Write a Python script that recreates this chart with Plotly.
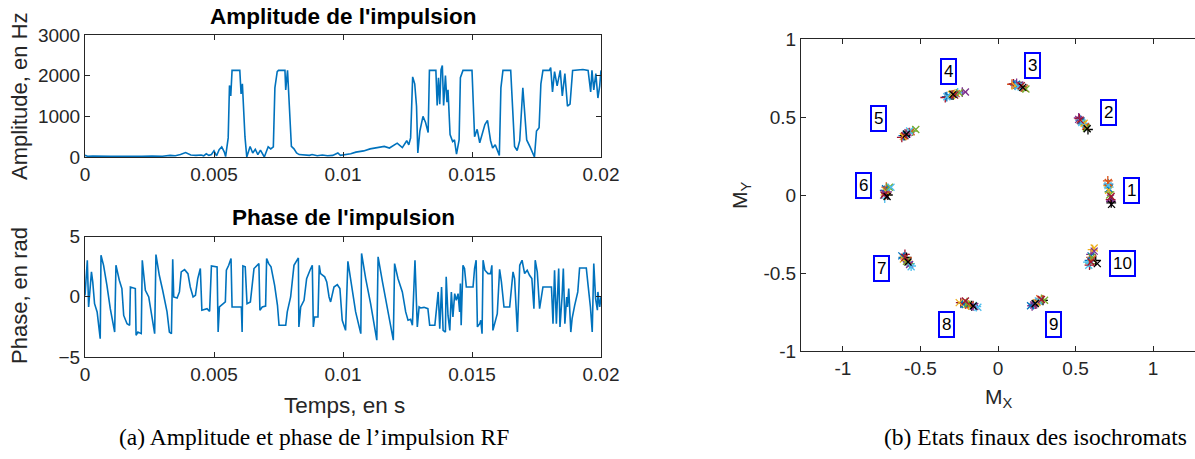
import plotly.graph_objects as go

# ---------------- data ----------------
AMP_T_MS = [0.0, 0.1, 0.3, 0.6, 1.0, 1.4, 1.8, 2.2, 2.6, 3.0, 3.3, 3.5, 3.7, 3.9, 4.1, 4.3, 4.5, 4.6, 4.7, 4.8,
            4.9, 5.0, 5.1, 5.2, 5.3, 5.4, 5.45, 5.55, 5.6, 5.65, 5.7, 6.0, 6.05, 6.1, 6.2, 6.27, 6.4, 6.5, 6.6, 6.7,
            6.8, 6.95, 7.1, 7.2, 7.3, 7.36, 7.45, 7.5, 7.75, 7.78, 7.85, 7.9, 8.0, 8.1, 8.2, 8.3, 8.5, 8.7, 8.8, 9.0,
            9.2, 9.4, 9.6, 9.8, 9.9, 10.0, 10.3, 10.5, 10.8, 11.05, 11.3, 11.6, 11.8, 12.1, 12.3, 12.47, 12.55, 12.62,
            12.7, 12.78, 12.85, 12.9, 12.98, 13.1, 13.2, 13.3, 13.35, 13.6, 13.65, 13.7, 13.75, 13.8, 13.85, 13.9,
            13.97, 14.03, 14.07, 14.15, 14.25, 14.32, 14.4, 14.5, 14.55, 14.65, 15.0, 15.1, 15.2, 15.3, 15.5, 15.6,
            15.72, 15.8, 15.9, 16.06, 16.12, 16.2, 16.5, 16.57, 16.65, 16.75, 16.85, 16.97, 17.05, 17.12, 17.25, 17.42,
            17.5, 17.6, 17.67, 17.75, 18.0, 18.05, 18.12, 18.2, 18.3, 18.42, 18.5, 18.6, 18.7, 18.8, 18.9, 19.3, 19.5,
            19.6, 19.65, 19.72, 19.8, 19.88, 19.95, 20.0]
AMP_HZ = [40, 20, 25, 15, 20, 15, 25, 20, 25, 20, 40, 30, 60, 110, 50, 40, 50, 30, 80, 40,
          60, 150, 30, 180, 250, 120, 10, 470, 1760, 1500, 2130, 2130, 1550, 1800, 500, 0, 260, 100, 190, 60,
          170, 0, 250, 200, 250, 1700, 2100, 2130, 2130, 1650, 2130, 1600, 260, 200, 100, 60, 50, 40, 60, 30,
          50, 30, 40, 100, 40, 50, 80, 120, 150, 200, 220, 260, 220, 340, 230, 400, 300, 470,
          1970, 1800, 1250, 100, 640, 1000, 850, 600, 2130, 2130, 1270, 1950, 1300, 2150, 2250, 1270,
          2000, 1350, 1650, 550, 380, 420, 70, 420, 1950, 2130, 2130, 500, 680, 350, 800, 900,
          400, 220, 300, 40, 1700, 2130, 2130, 1200, 260, 160, 400, 1700, 1030, 420, 250, 0,
          640, 720, 1800, 2130, 2130, 2200, 1600, 2100, 1750, 2130, 1500, 2050, 1250, 1300, 2130, 2150, 2130,
          1600, 2130, 1650, 2050, 1450, 1750, 2130]

PHASE_T_MS = [0.0, 0.09, 0.14, 0.25, 0.30, 0.37, 0.47, 0.59, 0.62, 0.72, 0.85, 0.98, 1.15, 1.20, 1.33, 1.43, 1.50,
              1.63, 1.73, 1.76, 1.95, 1.98, 2.05, 2.18, 2.22, 2.34, 2.47, 2.60, 2.70, 2.75, 2.88, 3.01, 3.18, 3.27,
              3.35, 3.40, 3.44, 3.57, 3.66, 3.73, 3.86, 3.99, 4.08, 4.19, 4.28, 4.37, 4.47, 4.53, 4.73, 4.83, 4.90,
              5.12, 5.16, 5.21, 5.37, 5.44, 5.48, 5.57, 5.66, 5.70, 6.06, 6.09, 6.12, 6.21, 6.28, 6.41, 6.55, 6.74,
              6.78, 6.87, 7.00, 7.04, 7.12, 7.21, 7.35, 7.46, 7.52, 7.78, 7.84, 7.97, 8.10, 8.27, 8.29, 8.36, 8.49,
              8.59, 8.72, 8.81, 8.85, 8.90, 9.03, 9.08, 9.13, 9.29, 9.37, 9.46, 9.52, 9.65, 9.78, 9.88, 9.97, 10.10,
              10.19, 10.36, 10.49, 10.69, 10.72, 10.88, 11.07, 11.31, 11.36, 11.53, 11.72, 11.95, 12.00, 12.13,
              12.30, 12.43, 12.52, 12.62, 12.69, 12.79, 12.88, 12.95, 13.01, 13.14, 13.29, 13.36, 13.56, 13.62,
              13.69, 13.75, 13.82, 13.88, 13.97, 14.00, 14.07, 14.14, 14.20, 14.26, 14.33, 14.39, 14.46, 14.52,
              14.55, 14.58, 14.65, 14.71, 14.78, 15.04, 15.10, 15.16, 15.21, 15.30, 15.34, 15.39, 15.43, 15.50,
              15.62, 15.72, 15.77, 15.81, 15.88, 15.98, 16.07, 16.14, 16.24, 16.46, 16.59, 16.65, 16.76, 16.85,
              16.94, 17.04, 17.14, 17.23, 17.32, 17.40, 17.45, 17.53, 17.62, 17.75, 18.08, 18.14, 18.20, 18.27,
              18.36, 18.41, 18.49, 18.54, 18.60, 18.67, 18.70, 18.75, 18.83, 18.88, 18.98, 19.04, 19.10, 19.17,
              19.43, 19.50, 19.59, 19.66, 19.72, 19.79, 19.86, 19.88, 19.95, 20.00]
PHASE_RAD = [0.1, 3.03, -0.85, 2.06, 1.23, -0.57, -1.26, -3.48, 3.45, 2.61, 0.95, -0.99, -2.93, 2.61, 1.37, 0.68, -1.55,
             -2.24, -2.37, 0.81, 0.68, -3.2, -2.93, -3.06, 3.03, 0.54, -0.02, -1.82, -3.06, 3.5, 1.78, 0.54, -1.26, -2.93,
             -3.06, 3.11, -0.02, -0.1, 0.4, 2.06, 2.25, 1.92, 0.81, -0.02, 0.12, 1.51, 2.34, -1.12, -0.99, -1.21, 2.56,
             2.48, -2.93, -0.85, -0.57, -0.43, 2.2, 2.61, 3.17, -0.85, -0.85, -2.93, 2.56, 2.48, -0.57, -0.43, 2.34, 2.75,
             -1.12, -0.85, -0.77, 3.17, 2.75, 2.48, 0.95, -0.71, -2.37, -2.37, -1.26, -0.02, 2.61, 3.22, -2.5, -0.85, -0.3,
             1.5, 2.2, 2.61, -2.5, -1.68, -1.68, 2.61, 1.92, 1.65, 1.23, -0.02, -0.43, 0.81, 1.0, 0.68, -1.95, -2.79,
             2.94, 0.4, -1.26, -3.06, 3.59, 1.51, -0.57, -3.6, 3.31, 1.23, -0.85, -3.6, 2.75, 1.51,
             0.4, -1.26, -1.95, -1.87, -2.37, 3.03, -2.5, -0.85, -0.93, -0.88, -0.99, -2.37, -2.37, -1.26,
             0.4, -2.65, 0.81, -2.79, -2.93, 1.65, -1.55, -2.79, 0.4, -1.68, 0.26, -0.3, 0.26, -1.26,
             1.09, -2.37, 2.61, 2.34, 0.81, 0.81, 2.34, 3.03, -2.5, -2.24, -1.95, -3.06, 3.03, 2.2,
             1.92, 1.92, 2.61, -2.79, -2.24, -1.4, 2.28, 1.23, -0.85, -0.85, 2.06, 1.51, -2.93, 2.61,
             3.03, 1.92, 2.2, 1.78, 1.51, -0.99, 3.03, 2.06, -0.99, 0.81, 0.81, -2.24, 2.2, -2.24,
             2.34, -2.5, -0.02, 2.34, -2.24, -0.02, -0.85, 0.68, -2.93, -1.82, -0.71, -0.02, 0.4, 2.39,
             2.39, 0.95, -0.85, -2.93, 2.75, -0.15, -1.12, 0.4, -0.85, 0.0]

# final isochromat states: one list per cluster (16 isochromats each)
C1_X = [0.712, 0.708, 0.710, 0.728, 0.718, 0.714, 0.726, 0.730, 0.715, 0.711, 0.713, 0.725, 0.720, 0.709, 0.729, 0.732]
C1_Y = [0.07, 0.09, 0.06, -0.04, 0.02, 0.05, -0.03, -0.05, 0.04, 0.08, 0.03, -0.02, 0.00, 0.06, -0.01, -0.06]
C2_X = [0.53, 0.55, 0.54, 0.52, 0.56, 0.545, 0.525, 0.58, 0.535, 0.565, 0.555, 0.52, 0.57, 0.54, 0.53, 0.575]
C2_Y = [0.48, 0.455, 0.47, 0.495, 0.45, 0.46, 0.49, 0.42, 0.475, 0.44, 0.46, 0.485, 0.43, 0.465, 0.48, 0.425]
C3_X = [0.11, 0.09, 0.14, 0.12, 0.16, 0.13, 0.10, 0.15, 0.12, 0.17, 0.11, 0.14, 0.18, 0.13, 0.15, 0.16]
C3_Y = [0.705, 0.71, 0.70, 0.715, 0.69, 0.70, 0.712, 0.695, 0.71, 0.685, 0.70, 0.705, 0.68, 0.695, 0.70, 0.69]
C4_X = [-0.33, -0.30, -0.28, -0.23, -0.31, -0.26, -0.34, -0.29, -0.32, -0.27, -0.30, -0.21, -0.25, -0.33, -0.28, -0.29]
C4_Y = [0.63, 0.64, 0.645, 0.66, 0.64, 0.655, 0.625, 0.64, 0.635, 0.65, 0.645, 0.66, 0.655, 0.63, 0.64, 0.645]
C5_X = [-0.61, -0.59, -0.60, -0.57, -0.55, -0.58, -0.62, -0.60, -0.59, -0.56, -0.61, -0.58, -0.53, -0.57, -0.60, -0.59]
C5_Y = [0.38, 0.39, 0.385, 0.40, 0.41, 0.395, 0.37, 0.38, 0.39, 0.405, 0.375, 0.40, 0.42, 0.41, 0.38, 0.39]
C6_X = [-0.73, -0.72, -0.725, -0.715, -0.71, -0.73, -0.72, -0.71, -0.725, -0.715, -0.72, -0.73, -0.70, -0.69, -0.735, -0.715]
C6_Y = [0.03, 0.05, 0.00, 0.02, 0.04, -0.02, 0.01, 0.00, 0.04, 0.03, 0.02, 0.01, 0.05, 0.05, 0.00, -0.01]
C7_X = [-0.61, -0.60, -0.59, -0.58, -0.57, -0.56, -0.60, -0.59, -0.62, -0.58, -0.61, -0.57, -0.59, -0.56, -0.60, -0.58]
C7_Y = [-0.40, -0.41, -0.42, -0.43, -0.44, -0.455, -0.38, -0.40, -0.39, -0.42, -0.41, -0.445, -0.425, -0.46, -0.40, -0.43]
C8_X = [-0.23, -0.21, -0.19, -0.16, -0.20, -0.14, -0.24, -0.17, -0.22, -0.18, -0.25, -0.15, -0.20, -0.13, -0.21, -0.16]
C8_Y = [-0.695, -0.70, -0.705, -0.71, -0.69, -0.715, -0.69, -0.71, -0.70, -0.705, -0.69, -0.715, -0.70, -0.72, -0.68, -0.712]
C9_X = [0.23, 0.25, 0.27, 0.22, 0.28, 0.26, 0.24, 0.29, 0.21, 0.27, 0.25, 0.23, 0.30, 0.26, 0.28, 0.24]
C9_Y = [-0.70, -0.69, -0.68, -0.71, -0.67, -0.685, -0.70, -0.675, -0.71, -0.665, -0.69, -0.705, -0.675, -0.68, -0.67, -0.695]
C10_X = [0.59, 0.60, 0.61, 0.60, 0.595, 0.58, 0.59, 0.63, 0.60, 0.61, 0.62, 0.62, 0.605, 0.585, 0.60, 0.64]
C10_Y = [-0.42, -0.40, -0.35, -0.38, -0.44, -0.43, -0.45, -0.42, -0.39, -0.41, -0.34, -0.36, -0.40, -0.45, -0.43, -0.44]

LABELS = ["1", "2", "3", "4", "5", "6", "7", "8", "9", "10"]
LABEL_X = [0.86, 0.71, 0.22, -0.32, -0.77, -0.87, -0.75, -0.33, 0.36, 0.80]
LABEL_Y = [0.03, 0.53, 0.83, 0.79, 0.49, 0.06, -0.47, -0.83, -0.83, -0.44]

AMP_TICKS = [0, 1000, 2000, 3000]
PHASE_TICKS = [-5, 0, 5]
TIME_TICKS = [0, 0.005, 0.01, 0.015, 0.02]
TIME_TICK_TEXT = ["0", "0.005", "0.01", "0.015", "0.02"]
M_TICKS = [-1, -0.5, 0, 0.5, 1]
M_TICK_TEXT = ["-1", "-0.5", "0", "0.5", "1"]

# ---------------- figure ----------------
W, H = 1195, 459
LINE = "#0072BD"
AX = "#262626"
SANS = "Liberation Sans, Arial, sans-serif"
SERIF = "Liberation Serif, Times New Roman, serif"

fig = go.Figure()

t_amp = [v * 1e-3 for v in AMP_T_MS]
t_ph = [v * 1e-3 for v in PHASE_T_MS]
fig.add_trace(go.Scatter(x=t_amp, y=AMP_HZ, mode="lines", line=dict(color=LINE, width=1.6),
                         xaxis="x", yaxis="y", showlegend=False))
fig.add_trace(go.Scatter(x=t_ph, y=PHASE_RAD, mode="lines", line=dict(color=LINE, width=1.6),
                         xaxis="x2", yaxis="y2", showlegend=False))

clusters_x = [C1_X, C2_X, C3_X, C4_X, C5_X, C6_X, C7_X, C8_X, C9_X, C10_X]
clusters_y = [C1_Y, C2_Y, C3_Y, C4_Y, C5_Y, C6_Y, C7_Y, C8_Y, C9_Y, C10_Y]
COLORS = ["#0072BD", "#D95319", "#EDB120", "#7E2F8E", "#77AC30", "#4DBEEE", "#A2142F", "#000000"]
for j in range(16):
    sym = "cross-thin-open" if j < 8 else "x-thin-open"
    col = COLORS[j % 8]
    fig.add_trace(go.Scatter(
        x=[cx[j] for cx in clusters_x], y=[cy[j] for cy in clusters_y],
        mode="markers", marker=dict(symbol=sym, size=7, line=dict(color=col, width=1.3), color=col),
        xaxis="x3", yaxis="y3", showlegend=False))


def px_x(p):
    return p / W


def px_y(p):
    return 1 - p / H


axis_common = dict(showline=True, linecolor=AX, linewidth=1, mirror="ticks", ticks="inside",
                   ticklen=5, tickcolor=AX, tickwidth=1, showgrid=False, zeroline=False,
                   automargin=False,
                   tickfont=dict(family=SANS, size=19, color=AX))
y3_axis = dict(axis_common)
y3_axis["mirror"] = False

fig.update_layout(
    template="none",
    width=W, height=H, margin=dict(l=0, r=0, t=0, b=0, autoexpand=False),
    paper_bgcolor="white", plot_bgcolor="white",
    xaxis=dict(domain=[px_x(85), px_x(601)], range=[0, 0.02], anchor="y",
               tickvals=TIME_TICKS, ticktext=TIME_TICK_TEXT, **axis_common),
    yaxis=dict(domain=[px_y(157), px_y(35)], range=[0, 3000], anchor="x",
               tickvals=AMP_TICKS, **axis_common),
    xaxis2=dict(domain=[px_x(85), px_x(601)], range=[0, 0.02], anchor="y2",
                tickvals=TIME_TICKS, ticktext=TIME_TICK_TEXT, **axis_common),
    yaxis2=dict(domain=[px_y(357), px_y(236.5)], range=[-5, 5], anchor="x2",
                tickvals=PHASE_TICKS, **axis_common),
    xaxis3=dict(domain=[px_x(801), 1.0], range=[-1.27, 1.27], anchor="y3",
                tickvals=M_TICKS, ticktext=M_TICK_TEXT, **axis_common),
    yaxis3=dict(domain=[px_y(351), px_y(39)], range=[-1, 1], anchor="x3",
                tickvals=M_TICKS, ticktext=M_TICK_TEXT, **y3_axis),
    # right-hand tick marks of the M plot (the frame line itself is cut by the page edge)
    yaxis4=dict(overlaying="y3", side="right", anchor="x3", range=[-1, 1], tickvals=M_TICKS,
                showticklabels=False, showline=False, ticks="inside", ticklen=5, tickcolor=AX,
                showgrid=False, zeroline=False, automargin=False),
)

ann = []
for lab, lx, ly in zip(LABELS, LABEL_X, LABEL_Y):
    ann.append(dict(x=lx, y=ly, xref="x3", yref="y3", text=lab, showarrow=False,
                    font=dict(family=SANS, size=17, color="black"),
                    bgcolor="white", bordercolor="#0000FF", borderwidth=2, borderpad=2))


def paper_text(text, x, y, size, bold=False, family=SANS, angle=0, color="black"):
    if bold:
        text = "<b>" + text + "</b>"
    return dict(x=px_x(x), y=px_y(y), xref="paper", yref="paper", text=text, showarrow=False,
                xanchor="center", yanchor="middle", textangle=angle,
                font=dict(family=family, size=size, color=color))


ann += [
    paper_text("Amplitude de l'impulsion", 343, 17, 22.5, bold=True),
    paper_text("Phase de l'impulsion", 343, 218, 22.5, bold=True),
    paper_text("Amplitude, en Hz", 19, 96, 22, angle=-90, color=AX),
    paper_text("Phase, en rad", 19, 296, 22, angle=-90, color=AX),
    paper_text("Temps, en s", 344, 405, 22.5, color=AX),
    paper_text("M<sub>Y</sub>", 741, 195, 21, angle=-90, color=AX),
    paper_text("M<sub>X</sub>", 999, 398, 21, color=AX),
    paper_text("(a) Amplitude et phase de l\u2019impulsion RF", 314, 437, 23.5, family=SERIF),
    paper_text("(b) Etats finaux des isochromats", 1035, 437, 23.5, family=SERIF),
]
fig.update_layout(annotations=ann)

fig.write_html("out.html", config={"displayModeBar": False},
               post_script="document.body.style.margin='0';document.body.style.overflow='hidden';")
